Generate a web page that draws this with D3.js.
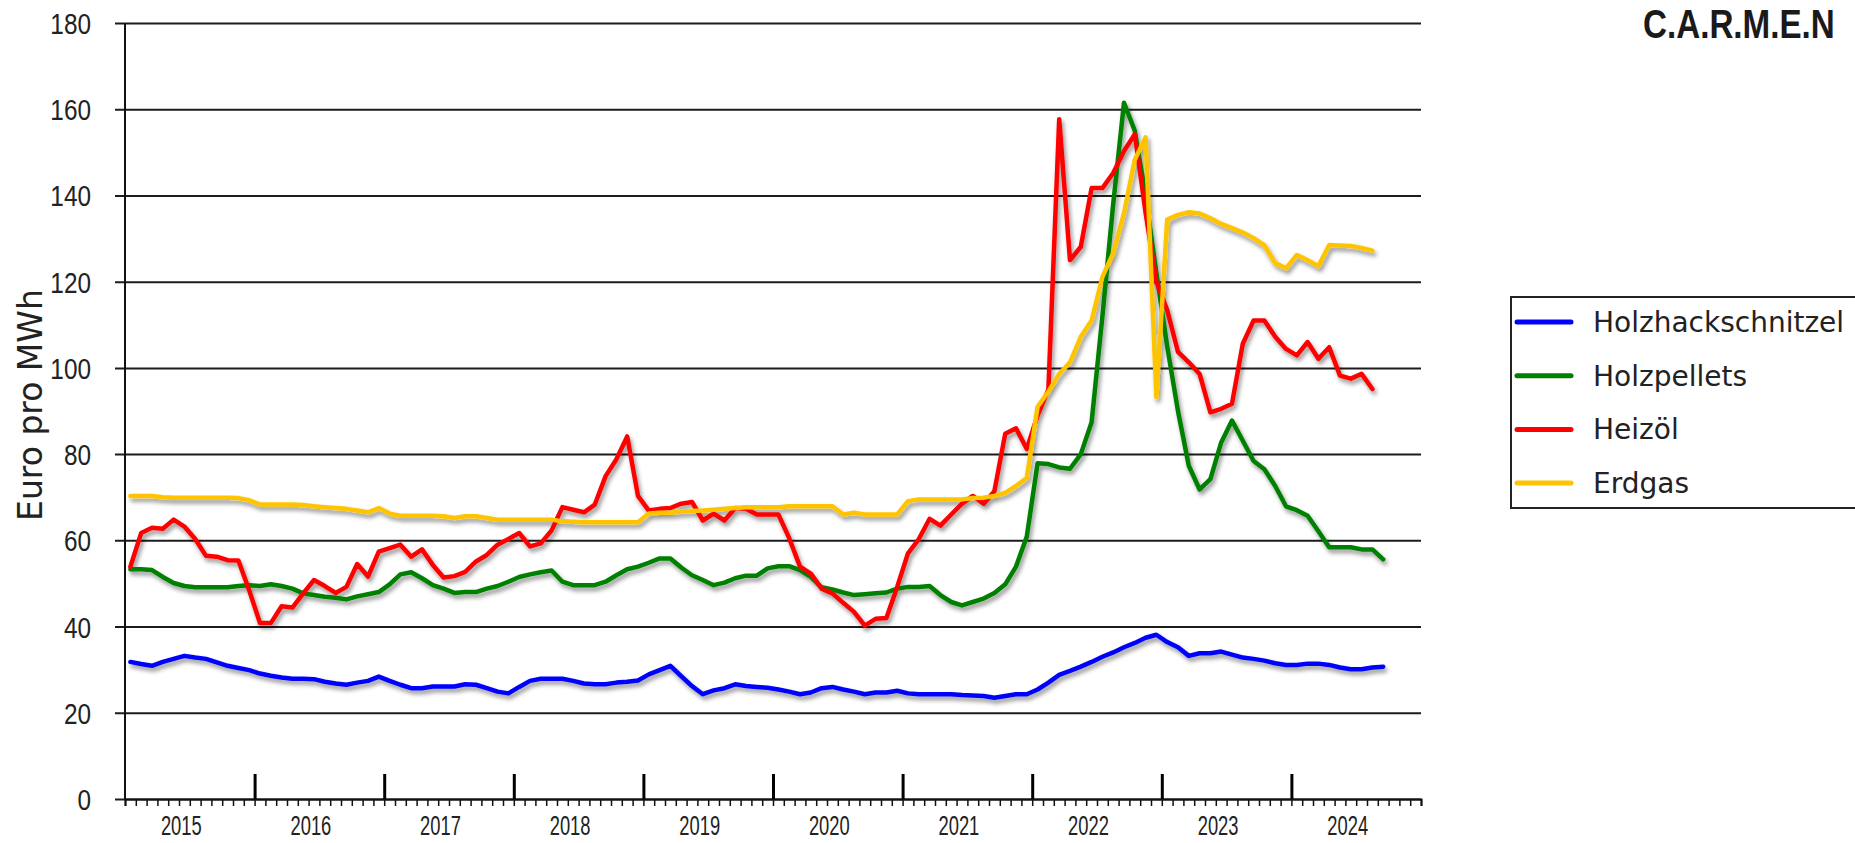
<!DOCTYPE html>
<html>
<head>
<meta charset="utf-8">
<script src="https://cdn.jsdelivr.net/npm/d3@7"></script>
<style>
  html, body { margin: 0; padding: 0; background: #ffffff; }
  svg { display: block; }
</style>
</head>
<body>
<svg id="chart" width="1855" height="843"></svg>
<script>
// Monthly fuel prices in Euro per MWh, January 2015 onward (index 0 = Jan 2015)
const yearLabels = ["2015", "2016", "2017", "2018", "2019", "2020", "2021", "2022", "2023", "2024"];
const yTicks = [0, 20, 40, 60, 80, 100, 120, 140, 160, 180];
const seriesNames = ["Holzhackschnitzel", "Holzpellets", "Heizöl", "Erdgas"];
const seriesColors = ["#0000ff", "#008000", "#ff0000", "#ffc400"];

const holzhackschnitzel = [
  31.8, 31.3, 30.9, 31.8, 32.5, 33.2, 32.8, 32.5, 31.7, 30.9, 30.4, 29.9,
  29.1, 28.6, 28.2, 27.9, 27.9, 27.8, 27.2, 26.8, 26.5, 27.0, 27.4, 28.4,
  27.4, 26.5, 25.7, 25.7, 26.1, 26.1, 26.1, 26.6, 26.5, 25.7, 24.9, 24.5,
  26.0, 27.4, 27.9, 27.9, 27.9, 27.4, 26.8, 26.6, 26.6, 27.0, 27.2, 27.5,
  28.9, 29.9, 30.9, 28.5, 26.2, 24.3, 25.2, 25.7, 26.6, 26.2, 26.0, 25.8,
  25.4, 24.9, 24.3, 24.7, 25.7, 26.0, 25.4, 24.9, 24.3, 24.7, 24.7, 25.1,
  24.5, 24.3, 24.3, 24.3, 24.3, 24.1, 24.0, 23.9, 23.5, 23.9, 24.3, 24.3,
  25.4, 27.0, 28.8, 29.7, 30.7, 31.8, 33.0, 34.0, 35.2, 36.2, 37.4, 38.1,
  36.4, 35.2, 33.2, 33.8, 33.8, 34.2, 33.5, 32.8, 32.5, 32.1, 31.5, 31.1,
  31.1, 31.4, 31.4, 31.1, 30.5, 30.1, 30.1, 30.5, 30.7
];

const holzpellets = [
  53.3, 53.3, 53.1, 51.5, 50.1, 49.4, 49.1, 49.1, 49.1, 49.1, 49.4, 49.6,
  49.4, 49.8, 49.4, 48.8, 47.7, 47.3, 46.9, 46.7, 46.3, 47.0, 47.5, 48.0,
  49.8, 52.1, 52.6, 51.2, 49.6, 48.8, 47.8, 48.0, 48.0, 48.8, 49.4, 50.4,
  51.5, 52.1, 52.6, 53.0, 50.4, 49.6, 49.6, 49.6, 50.4, 51.9, 53.3, 53.9,
  54.8, 55.8, 55.8, 53.7, 51.9, 50.8, 49.6, 50.2, 51.2, 51.8, 51.8, 53.5,
  54.0, 54.0, 53.1, 51.5, 49.1, 48.6, 47.9, 47.3, 47.5, 47.7, 47.9, 48.8,
  49.2, 49.2, 49.4, 47.3, 45.7, 44.9, 45.7, 46.5, 47.8, 49.8, 53.9, 60.9,
  77.9, 77.7, 76.9, 76.6, 80.0, 87.4, 112.0, 138.0, 161.5, 155.0, 140.0, 122.0,
  105.0, 90.0, 77.3, 71.8, 74.2, 82.7, 87.8, 83.1, 78.4, 76.5, 72.6, 67.9,
  67.0, 65.7, 62.1, 58.4, 58.4, 58.4, 57.9, 57.9, 55.6
];

const heizoel = [
  53.9, 61.7, 62.9, 62.7, 64.8, 63.2, 60.3, 56.4, 56.2, 55.4, 55.3, 48.4,
  40.8, 40.8, 44.7, 44.4, 47.7, 50.8, 49.4, 47.8, 49.2, 54.5, 51.6, 57.4,
  58.2, 59.0, 56.2, 57.9, 54.3, 51.4, 51.7, 52.7, 55.1, 56.6, 59.0, 60.3,
  61.7, 58.6, 59.3, 62.3, 67.7, 67.1, 66.5, 68.3, 74.9, 78.8, 84.1, 70.3,
  66.9, 67.3, 67.5, 68.5, 68.9, 64.6, 66.2, 64.6, 67.5, 67.3, 66.0, 66.0,
  66.0, 60.5, 53.9, 52.3, 48.8, 47.7, 45.5, 43.4, 40.2, 41.8, 42.0, 49.2,
  57.0, 60.3, 65.0, 63.4, 66.0, 68.5, 70.3, 68.5, 71.4, 84.7, 86.0, 81.2,
  89.0, 95.0, 157.7, 125.0, 128.1, 141.7, 141.7, 145.2, 150.3, 154.2, 136.0, 120.0,
  113.4, 103.7, 101.3, 98.6, 89.7, 90.5, 91.7, 105.6, 111.0, 111.0, 107.2, 104.4,
  102.9, 106.0, 102.1, 104.8, 98.2, 97.5, 98.6, 95.1, null
];

const erdgas = [
  70.3, 70.3, 70.3, 70.0, 69.9, 69.9, 69.9, 69.9, 69.9, 69.9, 69.8, 69.3,
  68.3, 68.3, 68.3, 68.3, 68.2, 67.9, 67.7, 67.5, 67.3, 66.9, 66.5, 67.5,
  66.2, 65.7, 65.7, 65.7, 65.7, 65.6, 65.2, 65.6, 65.6, 65.2, 64.8, 64.8,
  64.8, 64.8, 64.8, 64.8, 64.4, 64.3, 64.2, 64.2, 64.2, 64.2, 64.2, 64.2,
  66.2, 66.4, 66.4, 66.7, 66.8, 66.9, 67.1, 67.3, 67.5, 67.7, 67.7, 67.7,
  67.7, 67.9, 67.9, 67.9, 67.9, 67.9, 66.0, 66.4, 66.0, 66.0, 66.0, 66.0,
  69.1, 69.5, 69.5, 69.5, 69.5, 69.5, 69.8, 69.9, 70.3, 71.0, 72.6, 74.5,
  91.0, 94.5, 98.6, 101.3, 107.2, 111.0, 121.1, 126.6, 135.9, 148.3, 153.5, 93.2,
  134.4, 135.5, 136.1, 135.8, 134.7, 133.4, 132.4, 131.4, 130.1, 128.4, 124.3, 123.1,
  126.2, 125.0, 123.6, 128.5, 128.4, 128.3, 127.8, 127.2, null
];

const seriesValues = [holzhackschnitzel, holzpellets, heizoel, erdgas];

const svg = d3.select("#chart");
const monthCount = yearLabels.length * 12;

const plot = { left: 125, right: 1421, top: 23, bottom: 799 };
const x = d3.scaleLinear().domain([0, monthCount]).range([plot.left, plot.right]);
const y = d3.scaleLinear().domain([0, 180]).range([plot.bottom, plot.top]);

// soft drop shadow under the price lines
const defs = svg.append("defs");
const shadow = defs.append("filter").attr("id", "lineShadow")
  .attr("x", "-5%").attr("y", "-5%").attr("width", "110%").attr("height", "115%");
shadow.append("feDropShadow")
  .attr("dx", 2).attr("dy", 3.5).attr("stdDeviation", 2)
  .attr("flood-color", "#000").attr("flood-opacity", 0.42);

// horizontal gridlines with value labels
const gridGroup = svg.append("g")
  .attr("transform", `translate(${plot.left - 10},0)`)
  .call(d3.axisLeft(y).tickValues(yTicks).tickSize(-(plot.right - plot.left + 10)).tickPadding(0));
gridGroup.select(".domain").remove();
gridGroup.selectAll(".tick line").attr("stroke", "#1c1c1c").attr("stroke-width", 2);
gridGroup.selectAll(".tick text")
  .attr("font-family", "'Liberation Sans', Arial, sans-serif")
  .attr("font-size", 29)
  .attr("fill", "#222")
  .attr("x", -24 / 0.84)
  .attr("dy", "0.36em")
  .attr("transform", "scale(0.84,1)");

// vertical value axis line
svg.append("line")
  .attr("x1", plot.left).attr("x2", plot.left)
  .attr("y1", plot.top).attr("y2", plot.bottom)
  .attr("stroke", "#111").attr("stroke-width", 2);

// month ticks below the time axis
const minorAxis = svg.append("g")
  .attr("transform", `translate(0,${plot.bottom})`)
  .call(d3.axisBottom(x).tickValues(d3.range(0, monthCount + 1)).tickSize(7).tickFormat(""));
minorAxis.select(".domain").attr("stroke", "#111").attr("stroke-width", 2);
minorAxis.selectAll(".tick line").attr("stroke", "#111").attr("stroke-width", 1.5);

// year boundary ticks rising above the time axis
const majorAxis = svg.append("g")
  .attr("transform", `translate(0,${plot.bottom})`)
  .call(d3.axisBottom(x).tickValues(d3.range(12, monthCount, 12)).tickSize(-25).tickFormat(""));
majorAxis.select(".domain").remove();
majorAxis.selectAll(".tick line").attr("stroke", "#000").attr("stroke-width", 3);

// year labels, set slightly left of each year's middle
const yearAxis = svg.append("g")
  .attr("transform", `translate(-9,${plot.bottom})`)
  .call(d3.axisBottom(x)
    .tickValues(yearLabels.map((_, k) => k * 12 + 6))
    .tickSize(0)
    .tickFormat((d) => yearLabels[(d - 6) / 12]));
yearAxis.select(".domain").remove();
yearAxis.selectAll(".tick text")
  .attr("font-family", "'Liberation Sans', Arial, sans-serif")
  .attr("font-size", 27)
  .attr("fill", "#222")
  .attr("y", 36)
  .attr("dy", 0)
  .attr("transform", "scale(0.68,1)");

// axis title
svg.append("text")
  .attr("transform", "translate(42,405) rotate(-90)")
  .attr("text-anchor", "middle")
  .attr("font-family", "'DejaVu Sans', sans-serif")
  .attr("font-size", 33)
  .attr("fill", "#222")
  .text("Euro pro MWh");

// price lines
const line = d3.line()
  .defined((d) => d != null)
  .x((d, i) => x(i + 0.5))
  .y((d) => y(d));

const lines = svg.append("g").attr("filter", "url(#lineShadow)");
seriesValues.forEach((values, s) => {
  lines.append("path")
    .datum(values)
    .attr("fill", "none")
    .attr("stroke", seriesColors[s])
    .attr("stroke-width", 4.5)
    .attr("stroke-linejoin", "round")
    .attr("stroke-linecap", "round")
    .attr("d", line);
});

// legend
const legend = svg.append("g").attr("transform", "translate(1511,297)");
legend.append("rect")
  .attr("x", 0).attr("y", 0).attr("width", 420).attr("height", 211)
  .attr("fill", "#fff").attr("stroke", "#222").attr("stroke-width", 2);
seriesNames.forEach((name, s) => {
  const cy = 25 + s * 53.7;
  legend.append("line")
    .attr("x1", 6).attr("x2", 60).attr("y1", cy).attr("y2", cy)
    .attr("stroke", seriesColors[s]).attr("stroke-width", 5)
    .attr("stroke-linecap", "round");
  legend.append("text")
    .attr("x", 82).attr("y", cy).attr("dy", "0.36em")
    .attr("font-family", "'DejaVu Sans', sans-serif")
    .attr("font-size", 28)
    .attr("fill", "#222")
    .text(name);
});

// organisation mark
svg.append("text")
  .attr("transform", "translate(1643,38) scale(0.83,1)")
  .attr("x", 0).attr("y", 0)
  .attr("font-family", "'Liberation Sans', Arial, sans-serif")
  .attr("font-weight", "bold")
  .attr("font-size", 40)
  .attr("fill", "#1a1a1a")
  .text("C.A.R.M.E.N");
</script>
</body>
</html>
